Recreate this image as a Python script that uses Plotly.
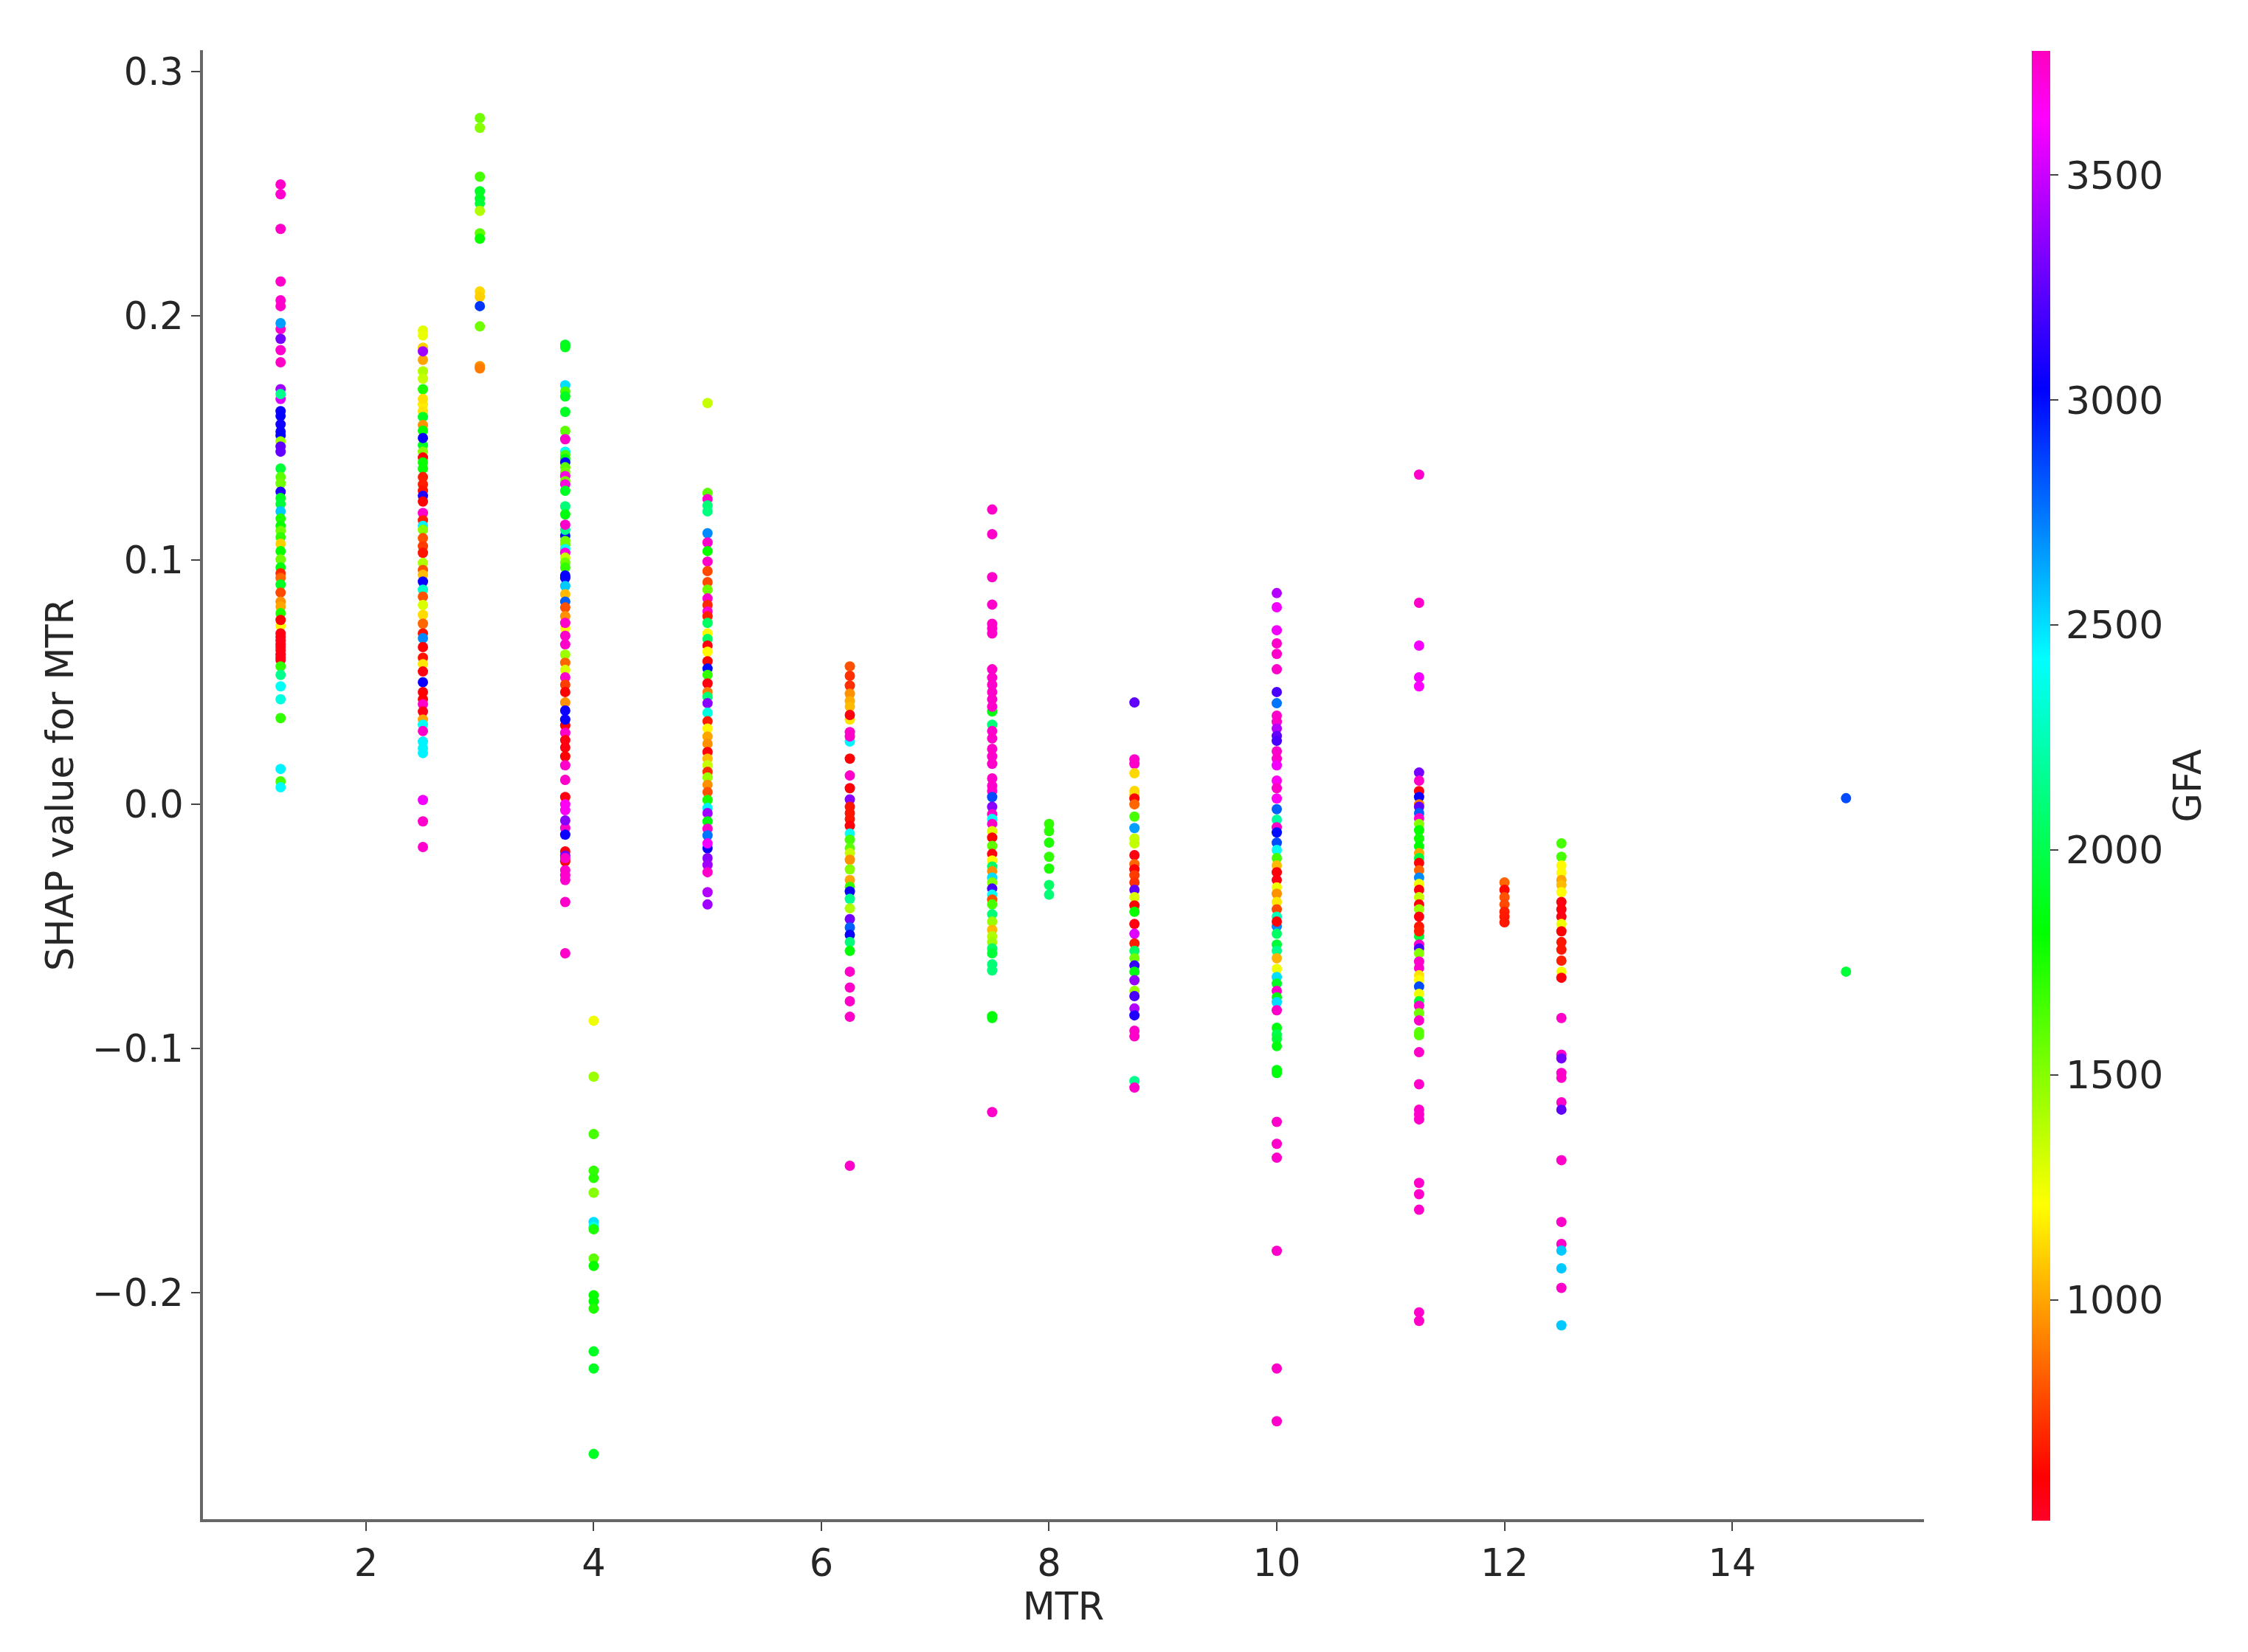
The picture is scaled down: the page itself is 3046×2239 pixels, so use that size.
import plotly.graph_objects as go

# Each list: (SHAP value for MTR, GFA), per MTR level
mtr_1_25 = [(.2538,3750),(.2498,3740),(.2356,3750),(.2141,3750),(.2064,3740),(.204,3750),(.1946,3750),(.197,2650),(.1906,3300),(.186,3740),(.181,3760),(.170,3400),(.166,3550),(.168,2150),(.161,3050),(.159,3040),(.1556,3060),(.1526,3050),(.151,3040),(.1486,1450),(.1465,3250),(.1444,3260),(.1375,1950),(.134,1600),(.1314,1550),(.128,3100),(.1254,1900),(.123,1950),(.12,2550),(.117,1750),(.114,1800),(.112,1550),(.1094,1700),(.1067,1100),(.1037,1800),(.1003,1550),(.097,1850),(.0946,700),(.0927,850),(.09,1900),(.0867,780),(.083,950),(.081,1000),(.0783,1750),(.073,1200),(.0755,600),(.07,560),(.0685,570),(.067,560),(.0655,550),(.0644,560),(.063,570),(.0613,560),(.0600,550),(.059,560),(.0565,1700),(.053,2150),(.0483,2400),(.043,2350),(.0353,1700),(.0094,1650),(.0145,2450),(.007,2430)]
mtr_2_50 = [(.194,1280),(.192,1260),(.187,1100),(.182,1000),(.1855,3400),(.1773,1400),(.1743,1350),(.17,1750),(.1637,1170),(.161,1150),(.166,1140),(.1586,1900),(.1553,950),(.153,1800),(.147,1900),(.15,3050),(.1444,1500),(.142,600),(.14,1800),(.1375,1800),(.134,680),(.131,680),(.1284,650),(.1263,3100),(.124,600),(.1193,3750),(.1163,680),(.114,2450),(.1124,1500),(.109,800),(.1057,750),(.103,650),(.0988,1400),(.096,800),(.094,1050),(.0912,3050),(.0879,2300),(.085,800),(.0816,1300),(.0776,1130),(.074,850),(.07,650),(.068,2700),(.0644,600),(.06,650),(.0574,1150),(.0544,570),(.05,3050),(.046,600),(.043,600),(.041,3750),(.038,560),(.0347,1000),(.0326,2400),(.03,3750),(.0257,2450),(.023,2450),(.021,2450),(.0018,3600),(-.007,3750),(-.0175,3740)]
mtr_3_00 = [(.281,1550),(.277,1500),(.257,1650),(.251,1900),(.248,1900),(.246,1950),(.243,1400),(.2338,1600),(.2316,1800),(.21,1120),(.2078,1100),(.204,2900),(.1957,1550),(.1794,950),(.1785,900)]
mtr_3_75 = [(.1882,1900),(.1872,1880),(.1716,2500),(.169,1650),(.167,1900),(.1607,1900),(.1529,1600),(.1495,3750),(.1444,2400),(.143,1650),(.1414,1850),(.14,3000),(.138,1600),(.136,1550),(.1344,3700),(.1323,1550),(.131,3700),(.1284,1900),(.122,2100),(.1187,1850),(.11,3000),(.1124,2150),(.1145,3750),(.1078,1550),(.1063,1560),(.1045,2400),(.103,3700),(.101,1350),(.099,1550),(.097,1700),(.0937,3040),(.0927,3040),(.0894,2550),(.086,1050),(.083,2800),(.0806,800),(.077,950),(.072,1200),(.0743,3750),(.069,3750),(.0655,3750),(.0613,1450),(.058,850),(.055,1300),(.052,3750),(.049,750),(.046,600),(.0417,950),(.0384,3050),(.0323,600),(.0347,3050),(.0293,3750),(.0263,570),(.0233,570),(.0196,600),(.016,3750),(.01,3750),(.003,570),(0.0,3650),(-.0024,3650),(-.0097,3750),(-.0066,3350),(-.0124,3050),(-.0193,570),(-.021,3300),(-.0233,600),(-.022,3750),(-.027,3750),(-.029,3750),(-.031,3740),(-.04,3750),(-.061,3750)]
mtr_4_00 = [(-.0886,1250),(-.1115,1450),(-.135,1650),(-.15,1700),(-.153,1720),(-.159,1500),(-.171,2500),(-.173,2350),(-.174,1750),(-.186,1600),(-.189,1800),(-.201,1800),(-.2035,1820),(-.2065,1750),(-.224,1900),(-.231,1900),(-.266,1900)]
mtr_5_00 = [(.1643,1350),(.1275,1600),(.125,3750),(.1224,2100),(.120,2120),(.111,2700),(.1072,3750),(.1037,1800),(.0994,3750),(.0955,780),(.091,780),(.0879,1550),(.0843,3750),(.0816,700),(.079,3750),(.077,680),(.0743,2050),(.07,1200),(.0677,2050),(.065,570),(.0625,1200),(.0586,620),(.0556,3000),(.053,1700),(.0495,570),(.046,900),(.044,2100),(.0414,3350),(.0375,2350),(.034,680),(.031,1200),(.0278,1000),(.0248,950),(.0214,580),(.0187,1050),(.016,1350),(.0133,720),(.011,1450),(.008,950),(.005,800),(.0018,1750),(-.0015,2450),(-.0036,3400),(-.007,1850),(-.01,3750),(-.0127,2750),(-.018,3050),(-.016,3600),(-.022,3350),(-.0248,3400),(-.0278,3750),(-.036,3450),(-.041,3400)]
mtr_6_25 = [(.0565,800),(.0526,720),(.0486,720),(.0453,950),(.0423,1020),(.04,1050),(.0347,1150),(.0366,580),(.0257,2450),(.0296,3750),(.0278,3750),(.0187,590),(.0118,3750),(.0066,590),(.002,3350),(-.001,660),(-.0036,660),(-.006,660),(-.0088,590),(-.012,2400),(-.0145,1650),(-.018,1600),(-.02,1350),(-.0227,950),(-.0266,1500),(-.031,1000),(-.0338,1700),(-.0357,3050),(-.0387,2150),(-.0426,1400),(-.047,3300),(-.0504,2800),(-.0534,3050),(-.0564,2100),(-.06,1820),(-.0685,3750),(-.075,3750),(-.0806,3750),(-.087,3750),(-.148,3750)]
mtr_7_50 = [(.1207,3750),(.1106,3750),(.093,3750),(.0818,3750),(.0739,3750),(.072,3750),(.07,3750),(.0553,3750),(.0519,3750),(.049,3750),(.046,3750),(.043,3750),(.038,1850),(.04,3750),(.0326,2100),(.03,3750),(.027,3750),(.0227,3750),(.0196,3750),(.0166,3750),(.0106,3750),(.0076,3750),(.0055,3750),(.003,2850),(-.001,3350),(-.004,3750),(-.006,2400),(-.008,3750),(-.011,1300),(-.0136,600),(-.017,1600),(-.0203,570),(-.023,1200),(-.0255,2050),(-.0274,950),(-.03,2500),(-.032,1500),(-.0345,3200),(-.037,2400),(-.039,800),(-.041,1650),(-.045,2100),(-.048,1450),(-.0514,1050),(-.054,1400),(-.0564,1450),(-.059,2050),(-.061,1950),(-.0655,2100),(-.068,2100),(-.0867,1820),(-.0875,1840),(-.126,3750)]
mtr_8_00 = [(-.008,1700),(-.011,1720),(-.0157,1750),(-.0215,1700),(-.0263,1750),(-.033,2050),(-.037,2100)]
mtr_8_75 = [(.0417,3250),(.0184,3750),(.0166,3750),(.0127,1120),(.0055,1120),(.004,1130),(.0024,600),(0.0,850),(-.005,1650),(-.0097,2650),(-.014,1350),(-.016,1360),(-.0208,570),(-.0245,850),(-.0266,600),(-.029,750),(-.032,720),(-.035,3250),(-.038,1300),(-.0414,620),(-.044,1800),(-.049,570),(-.053,3550),(-.057,680),(-.06,2050),(-.063,1550),(-.066,3150),(-.0685,1850),(-.072,3380),(-.0764,1450),(-.0785,3200),(-.0836,3450),(-.0864,3100),(-.0927,3750),(-.095,3750),(-.1133,2150),(-.116,3750)]
mtr_10_00 = [(.0865,3450),(.0807,3600),(.0713,3600),(.0659,3750),(.0616,3750),(.0553,3750),(.046,3200),(.0414,2750),(.0363,3750),(.0338,3750),(.031,3450),(.028,3250),(.026,3200),(.0217,3750),(.0187,3750),(.016,3600),(.0097,3650),(.0066,3750),(.0024,3650),(-.002,2800),(-.0063,2200),(-.0094,3750),(-.0115,3000),(-.0157,2850),(-.0187,2400),(-.022,1650),(-.025,1050),(-.0278,590),(-.031,570),(-.034,1250),(-.0366,950),(-.04,1150),(-.043,780),(-.046,2250),(-.05,2700),(-.048,600),(-.053,2050),(-.0574,1950),(-.06,2150),(-.063,1030),(-.0674,1250),(-.0707,2500),(-.0734,1900),(-.0764,3750),(-.079,1850),(-.081,2500),(-.0843,3750),(-.0915,1850),(-.0942,2000),(-.096,1950),(-.099,1850),(-.1088,1850),(-.11,1840),(-.13,3750),(-.139,3750),(-.1447,3750),(-.1828,3750),(-.231,3750),(-.2526,3750)]
mtr_11_25 = [(.135,3750),(.0825,3750),(.065,3600),(.052,3600),(.0483,3620),(.013,3300),(.0097,3750),(.0054,580),(.003,3050),(.0,900),(-.001,3250),(-.0036,2800),(-.0057,3750),(-.008,1500),(-.0106,1800),(-.014,1780),(-.0172,1820),(-.02,1000),(-.022,1950),(-.024,590),(-.027,850),(-.03,2700),(-.0326,1250),(-.035,580),(-.038,1350),(-.041,590),(-.043,1450),(-.046,570),(-.05,660),(-.054,1950),(-.052,680),(-.0574,3750),(-.059,3200),(-.061,1500),(-.0644,3750),(-.067,3750),(-.07,1150),(-.072,1200),(-.0746,2850),(-.0776,1250),(-.0806,1950),(-.0825,3750),(-.0855,1550),(-.0885,3750),(-.0933,1600),(-.0945,1620),(-.1015,3750),(-.1146,3750),(-.125,3750),(-.127,3750),(-.129,3750),(-.155,3750),(-.1596,3750),(-.166,3750),(-.208,3750),(-.2115,3750)]
mtr_12_00 = [(-.032,850),(-.035,620),(-.038,800),(-.041,780),(-.044,680),(-.046,670),(-.0483,660)]
mtr_12_50 = [(-.016,1650),(-.0215,1650),(-.025,1200),(-.028,1200),(-.031,1000),(-.033,1050),(-.036,1210),(-.04,570),(-.043,580),(-.046,570),(-.049,1250),(-.052,600),(-.0564,660),(-.0595,660),(-.064,680),(-.0685,1230),(-.071,580),(-.0875,3750),(-.1025,3750),(-.104,3300),(-.11,3750),(-.112,3750),(-.122,3750),(-.125,3250),(-.1457,3750),(-.171,3750),(-.18,3750),(-.1827,2550),(-.19,2550),(-.198,3750),(-.2133,2550)]
mtr_15_00 = [(.0025,2850),(-.0685,1950)]

mtr_levels = [1.25, 2.5, 3.0, 3.75, 4.0, 5.0, 6.25, 7.5, 8.0, 8.75, 10.0, 11.25, 12.0, 12.5, 15.0]
mtr_columns = [mtr_1_25, mtr_2_50, mtr_3_00, mtr_3_75, mtr_4_00, mtr_5_00, mtr_6_25, mtr_7_50, mtr_8_00,
               mtr_8_75, mtr_10_00, mtr_11_25, mtr_12_00, mtr_12_50, mtr_15_00]

x_ticks = [2, 4, 6, 8, 10, 12, 14]
y_ticks = [-0.2, -0.1, 0.0, 0.1, 0.2, 0.3]
gfa_ticks = [1000, 1500, 2000, 2500, 3000, 3500]

# matplotlib gist_rainbow
gist_rainbow = [[0.0, "rgb(255,0,41)"], [0.03, "rgb(255,0,0)"], [0.215, "rgb(255,255,0)"],
                [0.4, "rgb(0,255,0)"], [0.586, "rgb(0,255,255)"], [0.77, "rgb(0,0,255)"],
                [0.954, "rgb(255,0,255)"], [1.0, "rgb(255,0,191)"]]

xs, ys, cs = [], [], []
for level, column in zip(mtr_levels, mtr_columns):
    for shap, gfa in column:
        xs.append(level)
        ys.append(shap)
        cs.append(gfa)

W, H = 3046, 2239
INK = "#262626"
FONT = "DejaVu Sans"
fig = go.Figure(go.Scatter(
    x=xs, y=ys, mode="markers",
    marker=dict(
        size=14, color=cs, cmin=510, cmax=3776, colorscale=gist_rainbow, line=dict(width=0),
        colorbar=dict(
            thickness=25, thicknessmode="pixels", len=1992, lenmode="pixels",
            x=2753 / W, xanchor="left", xpad=0, y=178 / H, yanchor="bottom", ypad=0,
            outlinewidth=0, tickvals=gfa_ticks, ticks="outside", ticklen=11, tickwidth=2,
            tickcolor="#444444", tickfont=dict(family=FONT, size=52, color=INK),
        ),
    ),
))
fig.update_layout(
    width=W, height=H, margin=dict(l=0, r=0, t=0, b=0), showlegend=False,
    paper_bgcolor="white", plot_bgcolor="white",
    font=dict(family=FONT, color=INK),
    annotations=[dict(text="GFA", x=2995 / W, y=1 - 1065 / H, xref="paper", yref="paper",
                      textangle=-90, showarrow=False, font=dict(family=FONT, size=51, color=INK))],
)
fig.update_xaxes(
    domain=[275 / W, 2607 / W], range=[0.568, 15.685], tickvals=x_ticks, showgrid=False, zeroline=False,
    showline=True, linecolor="#666666", linewidth=4, ticks="outside", ticklen=12, tickwidth=2,
    tickcolor="#444444", tickfont=dict(family=FONT, size=51, color=INK),
    title=dict(text="MTR", standoff=6, font=dict(family=FONT, size=51, color=INK)),
)
fig.update_yaxes(
    domain=[180 / H, 1 - 68 / H], range=[-0.2927, 0.3088], tickvals=y_ticks, tickformat=".1f",
    showgrid=False, zeroline=False,
    showline=True, linecolor="#666666", linewidth=4, ticks="outside", ticklen=12, tickwidth=2,
    tickcolor="#444444", tickfont=dict(family=FONT, size=51, color=INK),
    title=dict(text="SHAP value for MTR", standoff=10, font=dict(family=FONT, size=51, color=INK)),
)
fig.write_html("out.html", post_script="document.body.style.margin='0';", config=dict(displayModeBar=False))
